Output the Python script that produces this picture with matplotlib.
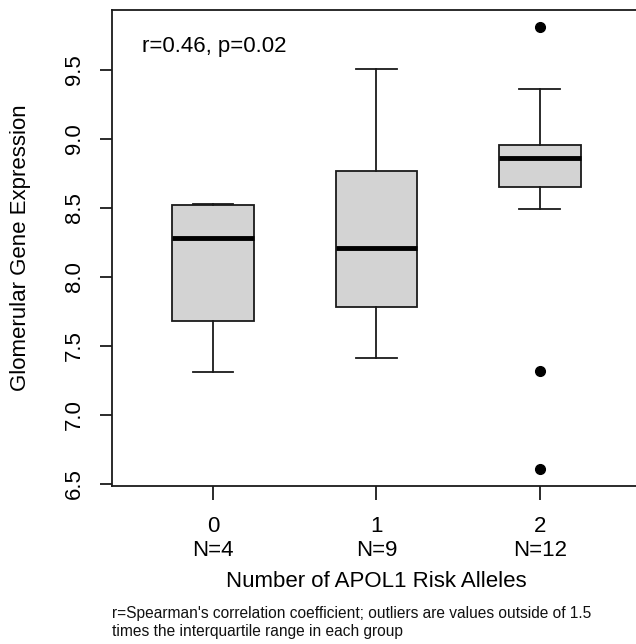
import matplotlib
matplotlib.use("Agg")
import matplotlib.pyplot as plt

plt.rcParams['font.family'] = ['Liberation Sans', 'DejaVu Sans']

# Data
categories = ["0", "1", "2"]
counts = [4, 9, 12]
whislo = [7.31, 7.41, 8.49]
q1 = [7.68, 7.78, 8.65]
medians = [8.285, 8.21, 8.865]
q3 = [8.52, 8.77, 8.96]
whishi = [8.53, 9.505, 9.36]
outliers = [[], [], [9.81, 7.32, 6.61]]
yticks = [6.5, 7.0, 7.5, 8.0, 8.5, 9.0, 9.5]
annotation = "r=0.46, p=0.02"
footnote = ("r=Spearman's correlation coefficient; outliers are values outside of 1.5\n"
            "times the interquartile range in each group")

W, H = 636, 644
FS = 16
fig = plt.figure(figsize=(W / 100, H / 100), dpi=100)
left_px, right_px, top_px, bottom_px = 111.7, 641.0, 10.3, 485.7
ax = fig.add_axes([left_px / W, 1 - bottom_px / H,
                   (right_px - left_px) / W, (bottom_px - top_px) / H])

stats = []
for i in range(len(categories)):
    stats.append(dict(med=medians[i], q1=q1[i], q3=q3[i],
                      whislo=whislo[i], whishi=whishi[i], fliers=outliers[i]))

positions = [1, 2, 3]
ax.bxp(stats, positions=positions, widths=0.5, capwidths=0.25,
       patch_artist=True, showfliers=True,
       boxprops=dict(facecolor="#D3D3D3", edgecolor="#1a1a1a", linewidth=1.3),
       medianprops=dict(color="black", linewidth=3.5, solid_capstyle="butt"),
       whiskerprops=dict(color="#1a1a1a", linewidth=1.3),
       capprops=dict(color="#1a1a1a", linewidth=1.3),
       flierprops=dict(marker="o", markerfacecolor="black", markeredgecolor="black",
                       markersize=7, linestyle="none"))

ax.set_xlim(0.38, 3.62)
ax.set_ylim(6.488, 9.933)
ax.set_yticks(yticks)
ax.set_yticklabels([f"{v:.1f}" for v in yticks])
ax.set_xticks(positions)
ax.set_xticklabels([f"{c}\nN={n}" for c, n in zip(categories, counts)],
                   linespacing=1.22)

for s in ax.spines.values():
    s.set_linewidth(1.3)
    s.set_color("#1a1a1a")

ax.tick_params(axis="x", length=10, width=1.3, pad=11.5, labelsize=FS, color="#1a1a1a")
ax.tick_params(axis="y", length=8.5, width=1.3, pad=11, labelsize=FS, color="#1a1a1a",
               labelrotation=90)
for lab in ax.get_yticklabels():
    lab.set_verticalalignment("center")

fig.text(21 / W, 1 - 248 / H, "Glomerular Gene Expression", rotation=90,
         ha="center", va="center", fontsize=FS)
fig.text(376 / W, 1 - 586.7 / H, "Number of APOL1 Risk Alleles",
         ha="center", va="baseline", fontsize=FS)
fig.text(141.7 / W, 1 - 52.3 / H, annotation, ha="left", va="baseline", fontsize=FS)
fig.text(112 / W, 1 - 622.5 / H, footnote, ha="left", va="center",
         fontsize=11.2, linespacing=1.3, color="#111111")

fig.savefig("out.png", dpi=100)
